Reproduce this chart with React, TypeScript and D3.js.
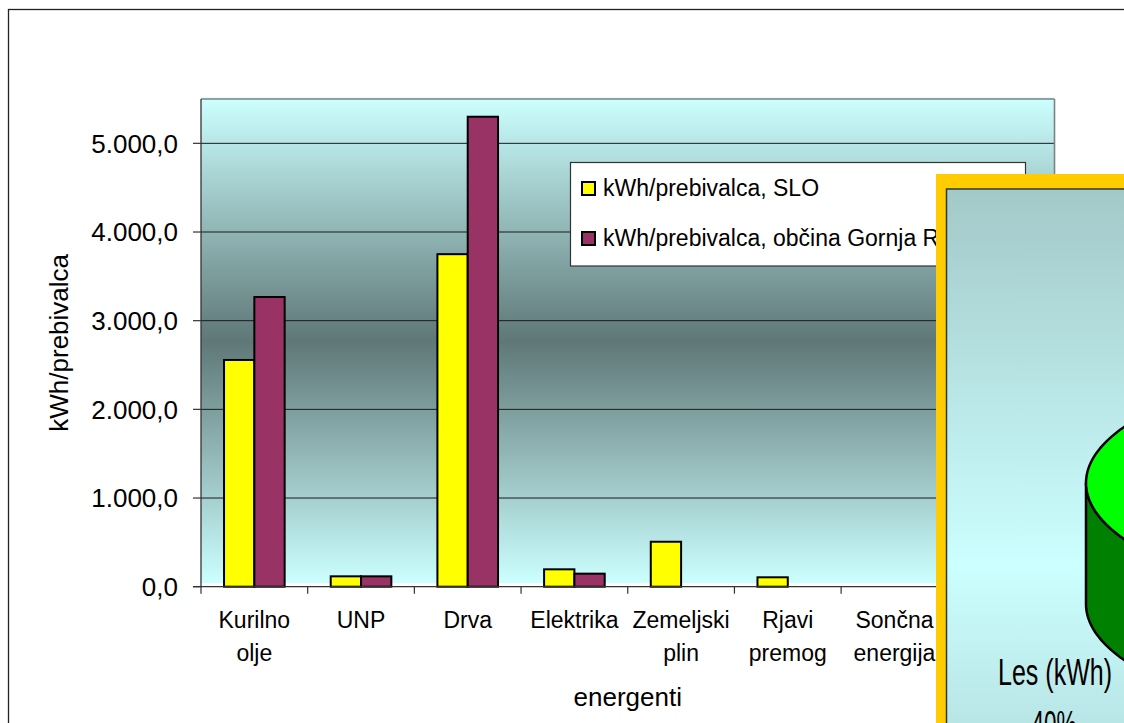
import React from "react";
import * as d3 from "d3";

const categories = ["Kurilno olje", "UNP", "Drva", "Elektrika", "Zemeljski plin", "Rjavi premog", "Sončna energija", "Ostalo"];
const seriesNames = ["kWh/prebivalca, SLO", "kWh/prebivalca, občina Gornja Radgona"];
const seriesSLO = [2557, 117, 3750, 196, 507, 106, 0, 0];
const seriesGR = [3267, 117, 5300, 147, 0, 0, 0, 0];
const yTicks = [0, 1000, 2000, 3000, 4000, 5000];
const seriesColors = ["#FFFF00", "#993366"];

const pieLabels = ["Les (kWh)", "Ostalo"];
const pieValues = [40, 60];
const pieTopColors = ["#00FF00", "#FF9900"];
const pieSideColors = ["#008000", "#CC6600"];

const FONT = "'Liberation Sans', Arial, sans-serif";
const NARROW = "'Liberation Sans Narrow', 'Arial Narrow', 'Liberation Sans', sans-serif";

const fmt = d3.formatLocale({ decimal: ",", thousands: ".", grouping: [3], currency: ["", ""] }).format(",.1f");

export default function App() {
  const plotLeft = 201, plotRight = 1054.5, plotTop = 99, plotBottom = 586.7;
  const x = d3.scaleBand<string>().domain(categories).range([plotLeft, plotRight]).padding(0);
  const xs = d3.scaleBand<number>().domain([0, 1]).range([0, x.bandwidth()]).paddingInner(0).paddingOuter(0.76);
  const y = d3.scaleLinear().domain([0, 5500]).range([plotBottom, plotTop]);
  const series = [seriesSLO, seriesGR];

  // overlay pie geometry
  const ovX = 936, ovY = 174;
  const inX = 946.5, inY = 189;
  const rx = 330, ry = 120, depth = 121;
  const cx = 1086 + rx, cy = 483;
  const startA = (270 - 72) * Math.PI / 180;
  const arcs = d3.pie<number>().sort(null).startAngle(startA).endAngle(startA + 2 * Math.PI)(pieValues);
  const pt = (a: number, dy = 0): [number, number] => [cx + rx * Math.sin(a), cy - ry * Math.cos(a) + dy];
  const arcPts = (a0: number, a1: number, dy = 0) => {
    const n = Math.max(8, Math.ceil(Math.abs(a1 - a0) / 0.02));
    return d3.range(n + 1).map(i => pt(a0 + (a1 - a0) * i / n, dy));
  };
  const line = d3.line();
  const topPaths = arcs.map(a => line([[cx, cy], ...arcPts(a.startAngle, a.endAngle)])! + "Z");
  const sidePaths = arcs.map(a => {
    const parts: string[] = [];
    for (let k = 0; k < 2; k++) {
      const f0 = Math.PI / 2 + k * 2 * Math.PI, f1 = 3 * Math.PI / 2 + k * 2 * Math.PI;
      const s = Math.max(a.startAngle, f0), e = Math.min(a.endAngle, f1);
      if (e > s) {
        const topArc = arcPts(s, e);
        const botArc = arcPts(e, s, depth);
        parts.push(line([...topArc, ...botArc])! + "Z");
      }
    }
    return parts.join(" ");
  });

  return (
    <svg width={1124} height={723} style={{ position: "absolute", left: 0, top: 0, background: "#fff" }}>
      <defs>
        <linearGradient id="plotGrad" gradientUnits="userSpaceOnUse" x1={0} y1={plotTop} x2={0} y2={583}>
          <stop offset="0" stopColor="#CCFFFF" />
          <stop offset="0.5" stopColor="#5F7777" />
          <stop offset="1" stopColor="#CCFFFF" />
        </linearGradient>
        <linearGradient id="ovGrad" gradientUnits="userSpaceOnUse" x1={0} y1={inY} x2={0} y2={900}>
          <stop offset="0" stopColor="#A3C8C8" />
          <stop offset="0.53" stopColor="#CCFFFF" />
          <stop offset="1" stopColor="#A3C8C8" />
        </linearGradient>
        <clipPath id="ovClip">
          <rect x={inX} y={inY} width={400} height={700} />
        </clipPath>
      </defs>

      {/* outer chart frame */}
      <rect x={8.5} y={9.5} width={1300} height={900} fill="#fff" stroke="#222" strokeWidth={1.3} />

      {/* plot area */}
      <rect x={plotLeft} y={plotTop - 1.5} width={plotRight - plotLeft} height={583 - plotTop + 1.5} fill="url(#plotGrad)" />
      {yTicks.filter(t => t > 0).map(t => (
        <line key={t} x1={plotLeft} x2={plotRight} y1={y(t)} y2={y(t)} stroke="#1a1a1a" strokeWidth={1} />
      ))}
      <line x1={plotLeft} x2={plotRight} y1={plotTop} y2={plotTop} stroke="#808080" strokeWidth={1.6} />
      <line x1={plotRight} x2={plotRight} y1={plotTop} y2={plotBottom} stroke="#808080" strokeWidth={1.6} />

      {/* bars */}
      {series.map((vals, si) =>
        vals.map((v, ci) => v > 0 ? (
          <rect key={`${si}-${ci}`} x={x(categories[ci])! + xs(si)!} y={y(v)} width={xs.bandwidth()} height={y(0) - y(v)}
            fill={seriesColors[si]} stroke="#000" strokeWidth={2} />
        ) : null)
      )}

      {/* axes */}
      <line x1={plotLeft} x2={plotLeft} y1={plotTop} y2={plotBottom} stroke="#333" strokeWidth={1.3} />
      <line x1={193} x2={plotRight} y1={plotBottom} y2={plotBottom} stroke="#333" strokeWidth={1.3} />
      {yTicks.map(t => (
        <g key={t}>
          <line x1={193} x2={plotLeft} y1={y(t)} y2={y(t)} stroke="#333" strokeWidth={1.2} />
          <text x={178} y={y(t)} dy="0.36em" textAnchor="end" fontFamily={FONT} fontSize={26} fill="#000">{fmt(t)}</text>
        </g>
      ))}
      {[...categories.map(c => x(c)!), plotRight].map((px, i) => (
        <line key={i} x1={px} x2={px} y1={plotBottom} y2={plotBottom + 7} stroke="#333" strokeWidth={1.2} />
      ))}
      {categories.map(c => (
        <text key={c} x={x(c)! + x.bandwidth() / 2} y={628} textAnchor="middle" fontFamily={FONT} fontSize={23} fill="#000">
          {c.split(" ").map((w, i) => (
            <tspan key={i} x={x(c)! + x.bandwidth() / 2} dy={i === 0 ? 0 : 33}>{w}</tspan>
          ))}
        </text>
      ))}
      <text x={(plotLeft + plotRight) / 2} y={706} textAnchor="middle" fontFamily={FONT} fontSize={26} fill="#000">energenti</text>
      <text transform={`translate(68,${(plotTop + plotBottom) / 2}) rotate(-90)`} textAnchor="middle" fontFamily={FONT} fontSize={26} fill="#000">kWh/prebivalca</text>

      {/* legend */}
      <rect x={570.5} y={162.5} width={455} height={103.5} fill="#fff" stroke="#333" strokeWidth={1.2} />
      {seriesNames.map((s, i) => (
        <g key={s}>
          <rect x={582} y={182 + i * 50} width={13} height={13} fill={seriesColors[i]} stroke="#000" strokeWidth={2} />
          <text x={603} y={196 + i * 50} fontFamily={FONT} fontSize={23} fill="#000">{s}</text>
        </g>
      ))}

      {/* overlaid embedded chart */}
      <rect x={ovX} y={ovY} width={300} height={700} fill="#FFCC00" />
      <rect x={inX} y={inY} width={300} height={700} fill="url(#ovGrad)" stroke="#2a3a3a" strokeWidth={1.5} />
      <g clipPath="url(#ovClip)">
        {sidePaths.map((d, i) => d ? <path key={`s${i}`} d={d} fill={pieSideColors[i]} stroke="#000" strokeWidth={2.5} strokeLinejoin="round" /> : null)}
        {topPaths.map((d, i) => <path key={`t${i}`} d={d} fill={pieTopColors[i]} stroke="#000" strokeWidth={2.5} strokeLinejoin="round" />)}
        <text x={1055} y={685} textAnchor="middle" fontFamily={NARROW} fontSize={37} textLength={114} lengthAdjust="spacingAndGlyphs" fill="#000">{pieLabels[0]}</text>
        <text x={1054} y={737} textAnchor="middle" fontFamily={NARROW} fontSize={37} textLength={45} lengthAdjust="spacingAndGlyphs" fill="#000">{`${Math.round(pieValues[0] / d3.sum(pieValues) * 100)}%`}</text>
      </g>
    </svg>
  );
}
